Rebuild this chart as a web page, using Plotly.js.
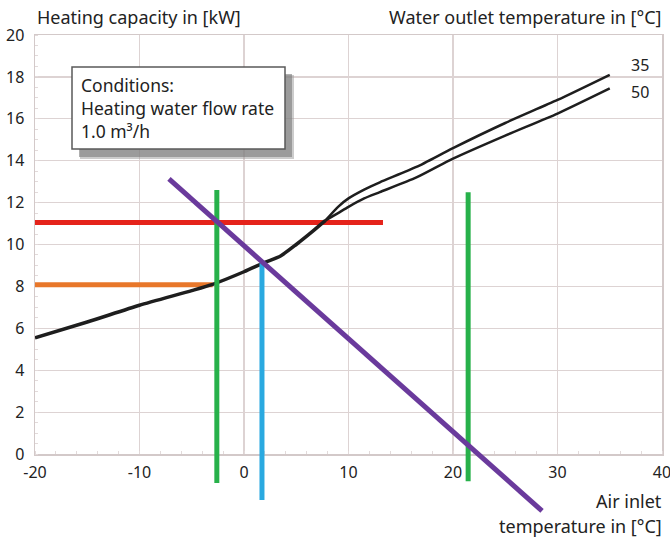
<!DOCTYPE html>
<html>
<head>
<meta charset="utf-8">
<script src="https://cdn.plot.ly/plotly-3.0.1.min.js"></script>
<style>html,body{margin:0;padding:0;background:#fff;}#chart{width:670px;height:540px;}</style>
</head>
<body>
<div id="chart"></div>
<script>
// ---- data ----
const xTickVals = [-20, -10, 0, 10, 20, 30, 40];
const yTickVals = [0, 2, 4, 6, 8, 10, 12, 14, 16, 18, 20];

// common part of the capacity curve (before split)
const baseX = [-20, -15, -10, -5, -3, 0, 2, 3.5, 5, 6.5, 7.8];
const baseY = [5.55, 6.3, 7.1, 7.8, 8.1, 8.7, 9.15, 9.45, 10.0, 10.6, 11.15];
// branch for water outlet 35 °C
const c35X = [7.8, 9, 10, 11.5, 13, 16.5, 20, 25, 30, 35];
const c35Y = [11.15, 11.8, 12.2, 12.62, 12.97, 13.7, 14.6, 15.8, 16.9, 18.1];
// branch for water outlet 50 °C
const c50X = [7.8, 9, 10, 11.5, 13, 16.5, 20, 25, 30, 35];
const c50Y = [11.15, 11.5, 11.8, 12.2, 12.5, 13.2, 14.1, 15.2, 16.25, 17.45];

// construction lines
const redX = [-20, 13.3],    redY = [11.05, 11.05];
const orangeX = [-20, -3],   orangeY = [8.08, 8.08];
const green1X = [-2.6, -2.6], green1Y = [12.6, -1.38];
const green2X = [21.45, 21.45], green2Y = [12.5, -1.3];
const blueX = [1.72, 1.72],  blueY = [9.12, -2.2];
const purpleX = [-7.18, 28.52], purpleY = [13.13, -2.72];

const curveLabels = ['35', '50'];
const curveLabelX = [37.9, 37.9];
const curveLabelY = [18.57, 17.28];

const FONT = 'Noto Sans, Open Sans, sans-serif';
const TXT = '#222';

function seg(x, y, color, width, shape) {
  return {x: x, y: y, xaxis: 'x2', yaxis: 'y2', mode: 'lines', type: 'scatter',
    line: {color: color, width: width, shape: shape || 'linear', smoothing: 0.6},
    hoverinfo: 'skip', showlegend: false};
}

const traces = [
  seg(redX, redY, '#e5231b', 5),
  seg(orangeX, orangeY, '#e8772a', 5),
  seg(baseX, baseY, '#1e1e1e', 3.5, 'spline'),
  seg(c35X, c35Y, '#1e1e1e', 2.5, 'spline'),
  seg(c50X, c50Y, '#1e1e1e', 2.5, 'spline'),
  seg(green1X, green1Y, '#27b14a', 5),
  seg(green2X, green2Y, '#27b14a', 5),
  seg(blueX, blueY, '#2aa9e0', 5),
  seg(purpleX, purpleY, '#6a3a9c', 5)
];

const gridC = '#ddd3d3';
// layout geometry: margins l35 r8 t35 b5 ; plot height 500, width 627
const mainBottom = 81 / 500;
const y2Min = -(81 / (419 / 20));

// pixel -> paper (paper = plot area between margins)
function px(x) { return (x - 35) / 627; }
function py(y) { return (535 - y) / 500; }

const annotations = [
  {text: 'Heating capacity in [kW]', xref: 'paper', yref: 'paper', x: px(35), y: py(17), xanchor: 'left', yanchor: 'middle', showarrow: false, font: {family: FONT, size: 18, color: TXT}},
  {text: 'Water outlet temperature in [°C]', xref: 'paper', yref: 'paper', x: px(664), y: py(17), xanchor: 'right', yanchor: 'middle', showarrow: false, font: {family: FONT, size: 18, color: TXT}},
  {text: 'Air inlet', xref: 'paper', yref: 'paper', x: px(664), y: py(501), xanchor: 'right', yanchor: 'middle', showarrow: false, font: {family: FONT, size: 18, color: TXT}},
  {text: 'temperature in [°C]', xref: 'paper', yref: 'paper', x: px(664), y: py(526), xanchor: 'right', yanchor: 'middle', showarrow: false, font: {family: FONT, size: 18, color: TXT}},
  {text: 'Conditions:', xref: 'paper', yref: 'paper', x: px(79), y: py(85), xanchor: 'left', yanchor: 'middle', showarrow: false, font: {family: FONT, size: 17.5, color: TXT}},
  {text: 'Heating water flow rate', xref: 'paper', yref: 'paper', x: px(79), y: py(108), xanchor: 'left', yanchor: 'middle', showarrow: false, font: {family: FONT, size: 17.5, color: TXT}},
  {text: '1.0 m³/h', xref: 'paper', yref: 'paper', x: px(79), y: py(131), xanchor: 'left', yanchor: 'middle', showarrow: false, font: {family: FONT, size: 17.5, color: TXT}}
];
curveLabels.forEach(function (t, i) {
  annotations.push({text: t, xref: 'x', yref: 'y', x: curveLabelX[i], y: curveLabelY[i], xanchor: 'center', yanchor: 'middle', showarrow: false, font: {family: FONT, size: 16, color: TXT}});
});

const shapes = [
  {type: 'rect', xref: 'paper', yref: 'paper', x0: px(80), x1: px(294), y0: py(75), y1: py(159), fillcolor: '#9a9a9a', line: {width: 0}, opacity: 0.5, layer: 'above'},
  {type: 'rect', xref: 'paper', yref: 'paper', x0: px(79), x1: px(292), y0: py(74), y1: py(157), fillcolor: '#7a7a7a', line: {width: 0}, opacity: 0.6, layer: 'above'},
  {type: 'rect', xref: 'paper', yref: 'paper', x0: px(72), x1: px(285), y0: py(67), y1: py(149), fillcolor: '#ffffff', line: {color: '#5a5a5a', width: 1.5}, layer: 'above'}
];

const layout = {
  width: 670, height: 540,
  margin: {l: 35, r: 8, t: 35, b: 5, pad: 0},
  paper_bgcolor: '#ffffff',
  plot_bgcolor: 'rgba(0,0,0,0)',
  showlegend: false,
  font: {family: FONT, color: TXT},
  xaxis: {
    domain: [0, 1], anchor: 'y', range: [-20, 40], tickvals: xTickVals, ticktext: xTickVals.map(String),
    showgrid: true, gridcolor: gridC, gridwidth: 1.2, zeroline: false,
    showline: true, linecolor: '#d3c9c9', linewidth: 1.5, mirror: true,
    ticks: '', ticklabelstandoff: 3, ticklabeloverflow: 'allow', tickfont: {family: FONT, size: 16, color: TXT},
    minor: {dtick: 2, ticks: 'inside', ticklen: 3, tickcolor: '#e2dada', showgrid: false}
  },
  yaxis: {
    domain: [mainBottom, 1], anchor: 'x', range: [0, 20], tickvals: yTickVals, ticktext: yTickVals.map(String),
    showgrid: true, gridcolor: gridC, gridwidth: 1.2, zeroline: false,
    showline: true, linecolor: '#d3c9c9', linewidth: 1.5, mirror: true,
    ticks: '', ticklabelstandoff: 6, ticklabeloverflow: 'allow', tickfont: {family: FONT, size: 16, color: TXT},
    minor: {dtick: 0.5, ticks: 'inside', ticklen: 3, tickcolor: '#e2dada', showgrid: false}
  },
  xaxis2: {domain: [0, 1], anchor: 'y2', range: [-20, 40], visible: false, showgrid: false, zeroline: false},
  yaxis2: {domain: [0, 1], anchor: 'x2', range: [y2Min, 20], visible: false, showgrid: false, zeroline: false},
  annotations: annotations,
  shapes: shapes
};

Plotly.newPlot('chart', traces, layout, {displayModeBar: false, staticPlot: true});
</script>
</body>
</html>
